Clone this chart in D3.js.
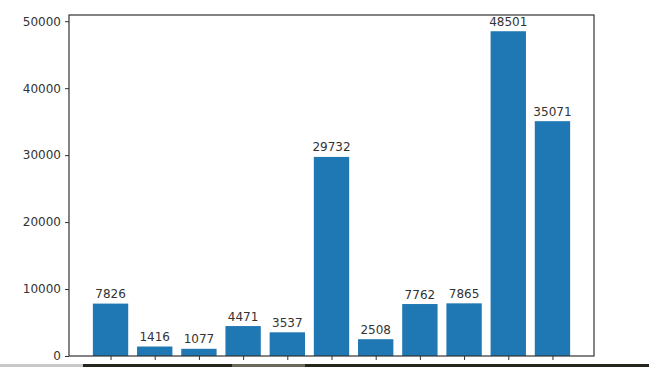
<!DOCTYPE html>
<html><head><meta charset="utf-8">
<script src="https://cdn.jsdelivr.net/npm/d3@7"></script>
<style>body{margin:0;background:#fff}svg{display:block}</style>
</head><body>
<svg id="c" width="649" height="367"></svg>
<script>
const categories = [0,1,2,3,4,5,6,7,8,9,10];
const values = [7826, 1416, 1077, 4471, 3537, 29732, 2508, 7762, 7865, 48501, 35071];
const yTicks = [0, 10000, 20000, 30000, 40000, 50000];

const svg = d3.select('#c');
const L = 69, R = 594, T = 15, B = 356;
const x = d3.scaleLinear().domain([-0.94, 10.94]).range([L, R]);
const y = d3.scaleLinear().domain([0, d3.max(values) * 1.05]).range([B, T]);
const bw = x(0.8) - x(0);
const font = "DejaVu Sans, sans-serif";
const ink = "#333";

svg.selectAll('rect.bar').data(values).join('rect')
  .attr('class','bar')
  .attr('x', (d,i) => x(categories[i]) - bw/2)
  .attr('width', bw)
  .attr('y', d => y(d))
  .attr('height', d => B - y(d))
  .attr('fill', '#1f77b4');

svg.selectAll('text.lab').data(values).join('text')
  .attr('class','lab')
  .attr('x', (d,i) => x(categories[i]))
  .attr('y', d => y(d) - 5.5)
  .attr('text-anchor','middle')
  .attr('font-family', font).attr('font-size', 12).attr('fill', ink)
  .text(d => d);

// frame
svg.append('rect').attr('x', L).attr('y', T).attr('width', R-L).attr('height', B-T)
  .attr('fill','none').attr('stroke', '#333').attr('stroke-width', 1.2);

const yAxis = svg.append('g').attr('transform', `translate(${L},0)`)
  .call(d3.axisLeft(y).tickValues(yTicks).tickSize(4).tickPadding(4).tickFormat(d3.format('d')));
yAxis.select('.domain').remove();
yAxis.selectAll('line').attr('stroke','#333');
yAxis.selectAll('text').attr('font-family', font).attr('font-size', 12).attr('fill', ink);

const xAxis = svg.append('g').attr('transform', `translate(0,${B})`)
  .call(d3.axisBottom(x).tickValues(categories).tickSize(4).tickFormat(''));
xAxis.select('.domain').remove();
xAxis.selectAll('line').attr('stroke','#333');

// bottom screenshot strip
svg.append('rect').attr('x',0).attr('y',364).attr('width',83).attr('height',3).attr('fill','#c8c8c8');
svg.append('rect').attr('x',83).attr('y',364).attr('width',566).attr('height',3).attr('fill','#26251c');
svg.append('rect').attr('x',232).attr('y',364).attr('width',73).attr('height',3).attr('fill','#6b6a5a');
</script>
</body></html>
